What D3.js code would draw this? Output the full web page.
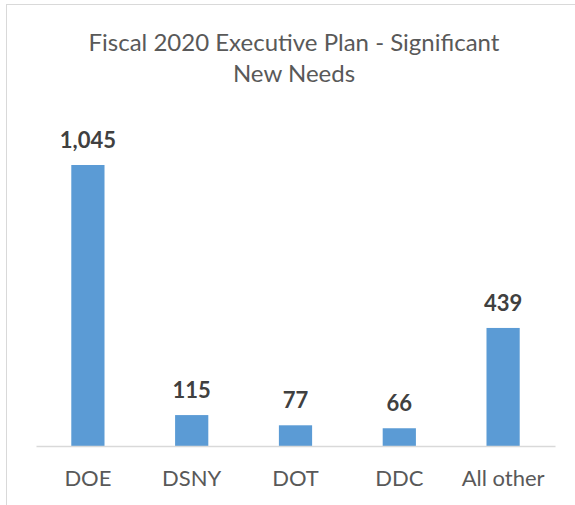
<!DOCTYPE html>
<html>
<head>
<meta charset="utf-8">
<script src="https://cdn.jsdelivr.net/npm/d3@7"></script>
<style>
  body { margin: 0; background: #fff; }
</style>
</head>
<body>
<script>
const categories = ["DOE", "DSNY", "DOT", "DDC", "All other"];
const values = [1045, 115, 77, 66, 439];
const titleLines = ["Fiscal 2020 Executive Plan - Significant", "New Needs"];

const width = 575;
const height = 505;
const marginLeft = 36; // left of category axis
const marginRight = 20;
const axisY = 446; // baseline of the bars
const font = "Lato, 'Open Sans', sans-serif";

const svg = d3.select("body").append("svg")
  .attr("width", width)
  .attr("height", height)
  .attr("viewBox", [0, 0, width, height]);

// chart area border
svg.append("rect")
  .attr("x", 6.5)
  .attr("y", 4.5)
  .attr("width", width)
  .attr("height", height)
  .attr("fill", "#fff")
  .attr("stroke", "#d9d9d9");

const x = d3.scaleBand(categories, [marginLeft, width - marginRight])
  .paddingInner(0.68)
  .paddingOuter(0.34);
const y = d3.scaleLinear([0, 1200], [axisY, axisY - 1200 * (281 / 1045)]);

// title
svg.append("g")
  .attr("font-family", font)
  .attr("font-size", 24)
  .attr("fill", "#595959")
  .attr("text-anchor", "middle")
  .selectAll("text")
  .data(titleLines)
  .join("text")
  .attr("x", 294)
  .attr("y", (d, i) => 51 + i * 31)
  .text((d) => d);

// bars
svg.append("g")
  .attr("fill", "#5b9bd5")
  .selectAll("rect")
  .data(values)
  .join("rect")
  .attr("x", (d, i) => x(categories[i]))
  .attr("y", (d) => y(d))
  .attr("width", x.bandwidth())
  .attr("height", (d) => y(0) - y(d));

// value labels
svg.append("g")
  .attr("font-family", font)
  .attr("font-size", 22)
  .attr("font-weight", "bold")
  .attr("fill", "#404040")
  .attr("text-anchor", "middle")
  .selectAll("text")
  .data(values)
  .join("text")
  .attr("x", (d, i) => x(categories[i]) + x.bandwidth() / 2)
  .attr("y", (d) => y(d) - 17)
  .text((d) => d3.format(",")(d));

// category axis
const xAxis = d3.axisBottom(x).tickSize(0).tickPadding(24);
svg.append("g")
  .attr("transform", `translate(0,${axisY})`)
  .call(xAxis)
  .call((g) => g.select(".domain").attr("stroke", "#d9d9d9").attr("stroke-width", 1.5))
  .call((g) => g.selectAll(".tick text")
    .attr("font-family", font)
    .attr("font-size", 22)
    .attr("fill", "#595959"));
</script>
</body>
</html>
